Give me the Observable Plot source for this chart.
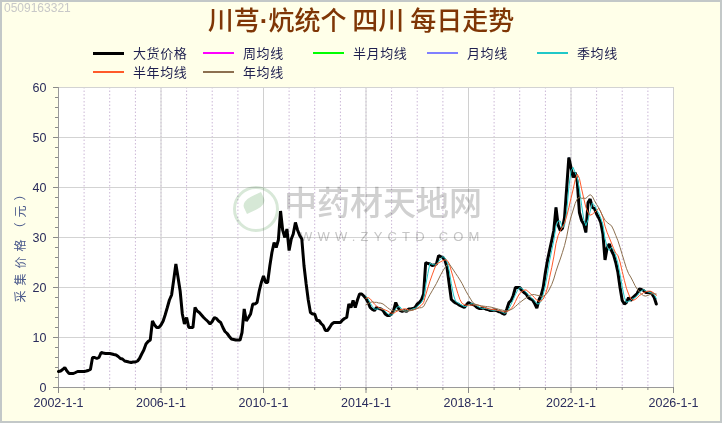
<!DOCTYPE html>
<html>
<head>
<meta charset="utf-8">
<script src="https://cdn.jsdelivr.net/npm/d3@7"></script>
<script src="https://cdn.jsdelivr.net/npm/@observablehq/plot@0.6"></script>
<style>
  body { margin: 0; background: #fff; }
  #root { position: relative; width: 722px; height: 423px; background: #FFFFE9; overflow: hidden;
          font-family: "Noto Sans CJK SC", "Liberation Sans", sans-serif; }
  #chart { position: absolute; left: 0; top: 80px; }
  #title { position: absolute; left: 0; top: 3px; width: 722px; text-align: center; font-size: 26px;
           line-height: 32px; color: #7f3606; font-weight: 500; white-space: nowrap; }
  #title .dot { font-family: "Liberation Sans", Arial, sans-serif; font-weight: 700; }
  .lg-line { position: absolute; height: 0; }
  .lg-text { position: absolute; font-size: 13px; line-height: 13px; height: 13px; color: #1f2050; white-space: nowrap; letter-spacing: 0.6px; }
  #ylabel { position: absolute; left: 20px; top: 243px; transform: translate(-50%, -50%) rotate(-90deg);
            font-size: 12px; line-height: 12px; letter-spacing: 5px; color: #4b5a8c; white-space: nowrap; }
  #wmid { position: absolute; left: 4px; top: 1px; font: 12px "Liberation Sans", Arial, sans-serif; color: #c8c8c8; }
  .wm { position: absolute; mix-blend-mode: multiply; pointer-events: none; white-space: nowrap; }
  #wmcn { left: 284px; top: 181px; font-size: 33px; line-height: 40px; color: #d0d0d0; font-weight: 500; }
  #wmen { left: 300px; top: 229px; font: 13px "Liberation Sans", Arial, sans-serif; letter-spacing: 5.2px; color: #c6c6c6; }
  #wmlogo { left: 233px; top: 186px; width: 40px; height: 40px; border-radius: 50%; border: 3px solid #d8e8d8; }
  #wmleaf { left: 243px; top: 196px; width: 22px; height: 14px; border-radius: 50% 0 50% 0; background: #d6e8d6; transform: rotate(-25deg); }
  #border { position: absolute; left: 0; top: 0; width: 722px; height: 423px; box-sizing: border-box;
            border: 2px solid #c3c8c8; pointer-events: none; }
</style>
</head>
<body>
<div id="root">
  <div id="chart"></div>
  <div class="wm" id="wmlogo"></div>
  <div class="wm" id="wmleaf"></div>
  <div class="wm" id="wmcn">中药材天地网</div>
  <div class="wm" id="wmen">WWW.ZYCTD.COM</div>
  <div id="title">川芎<span class="dot">·</span>炕统个 四川 每日走势</div>
  <div id="legend"></div>
  <div id="ylabel">采集价格（元）</div>
  <div id="wmid">0509163321</div>
  <div id="border"></div>
</div>
<script>
// ---- data (monthly price, first value = Jan 2002) ----
const firstYear = 2002;
const monthlyPrice = [
  // 2002
  3.2, 3.3, 3.6, 4.0, 3.3, 2.8, 2.8, 2.8, 3.0, 3.2, 3.2, 3.2,
  // 2003
  3.2, 3.3, 3.4, 3.6, 6.0, 6.0, 5.8, 6.0, 7.0, 6.9, 6.8, 6.8,
  // 2004
  6.8, 6.7, 6.6, 6.5, 6.2, 5.8, 5.7, 5.3, 5.2, 5.1, 5.0, 5.1,
  // 2005
  5.1, 5.3, 5.8, 6.7, 7.5, 8.7, 9.2, 9.5, 13.3, 12.5, 12.0, 12.0,
  // 2006
  12.5, 13.3, 14.5, 16.0, 17.5, 18.5, 21.5, 24.7, 22.0, 19.3, 14.7, 12.7,
  // 2007
  14.0, 12.0, 12.0, 12.0, 16.0, 15.3, 15.0, 14.5, 14.0, 13.6, 13.2, 12.7,
  // 2008
  13.2, 14.0, 13.8, 13.3, 13.0, 12.0, 11.2, 10.8, 10.2, 9.7, 9.6, 9.5,
  // 2009
  9.5, 9.5, 11.0, 15.7, 13.3, 14.0, 14.7, 16.7, 16.7, 17.0, 19.3, 21.0,
  // 2010
  22.3, 21.0, 21.0, 24.3, 27.0, 29.0, 28.0, 29.5, 35.3, 31.5, 30.0, 31.7,
  // 2011
  27.4, 29.7, 30.7, 33.0, 31.5, 30.4, 29.7, 24.4, 20.7, 17.5, 15.0, 14.7,
  // 2012
  14.7, 13.4, 13.4, 12.8, 12.4, 11.4, 11.4, 12.0, 12.7, 13.0, 13.0, 13.0,
  // 2013
  13.0, 13.5, 13.8, 14.0, 16.7, 16.0, 17.4, 16.0, 17.5, 18.7, 18.7, 18.3,
  // 2014
  17.8, 17.0, 16.0, 15.6, 15.4, 16.0, 15.8, 15.7, 15.4, 14.7, 14.4, 14.4,
  // 2015
  14.7, 15.5, 17.0, 16.0, 15.4, 15.2, 15.4, 15.2, 15.7, 15.7, 15.8, 16.0,
  // 2016
  16.7, 17.0, 17.5, 18.7, 25.0, 24.8, 24.7, 24.4, 24.5, 24.7, 26.4, 26.2,
  // 2017
  26.0, 25.4, 24.0, 20.7, 17.6, 17.2, 16.9, 16.7, 16.4, 16.2, 16.0, 16.5,
  // 2018
  17.0, 16.7, 16.6, 16.4, 16.0, 15.8, 15.8, 15.9, 15.7, 15.6, 15.4, 15.4,
  // 2019
  15.5, 15.4, 15.2, 15.1, 14.8, 14.6, 15.7, 17.0, 17.4, 18.4, 20.0, 20.0,
  // 2020
  20.0, 19.4, 19.0, 18.7, 18.0, 17.7, 17.5, 16.8, 15.9, 17.5, 18.4, 20.0,
  // 2021
  23.0, 25.5, 27.4, 29.4, 31.4, 36.0, 32.5, 31.4, 31.8, 34.0, 40.0, 46.0,
  // 2022
  44.0, 42.0, 43.0, 41.0, 35.0, 33.4, 32.7, 31.0, 37.0, 37.7, 36.0, 35.8,
  // 2023
  34.7, 33.9, 33.0, 30.7, 25.5, 28.0, 28.7, 27.4, 26.5, 25.0, 23.0, 20.0,
  // 2024
  17.4, 16.7, 17.0, 18.0, 17.4, 18.0, 18.4, 18.8, 19.7, 19.6, 19.4, 19.0,
  // 2025
  19.0, 19.0, 18.7, 18.0, 16.7
];

// moving-average windows (in monthly samples) and legend
const seriesNames   = ["大货价格", "周均线", "半月均线", "月均线", "季均线", "半年均线", "年均线"];
const seriesColors  = ["#000000", "#ff00ff", "#00ff00", "#8080ff", "#20c8c8", "#ff5a2a", "#8c7050"];
const seriesWindows = [null, 1, 1, 1, 3, 6, 12];
const maStartYear = 2014;

// axis ticks
const xMajorYears = [2002, 2006, 2010, 2014, 2018, 2022, 2026];
const xMinorYears = d3.range(2002, 2027);
const yMajor = [0, 10, 20, 30, 40, 50, 60];
const yMinor = d3.range(0, 61, 2);

// ---- build table ----
const data = monthlyPrice.map((v, i) => ({ date: new Date(Date.UTC(firstYear, i, 1)), price: v }));
const utcYear = y => new Date(Date.UTC(y, 0, 1));
const maStart = utcYear(maStartYear);

const maLine = (idx) => Plot.line(data, Plot.filter(d => d.date >= maStart,
  Plot.windowY({ k: seriesWindows[idx], anchor: "end" },
    { x: "date", y: "price", stroke: seriesColors[idx], strokeWidth: 1 })));

const chart = Plot.plot({
  width: 722,
  height: 343,
  marginLeft: 58,
  marginRight: 49,
  marginTop: 7,
  marginBottom: 36,
  style: { background: "transparent", fontFamily: "'Liberation Sans', Arial, sans-serif", fontSize: "12.5px", color: "#2a2c5c", overflow: "visible" },
  x: { type: "utc", domain: [utcYear(xMajorYears[0]), utcYear(xMajorYears[xMajorYears.length - 1])], label: null },
  y: { domain: [yMajor[0], yMajor[yMajor.length - 1]], label: null },
  marks: [
    Plot.frame({ fill: "white", stroke: "none" }),
    Plot.ruleX(xMinorYears.map(utcYear), { stroke: "#cbb7d6", strokeDasharray: "1.5,2", strokeWidth: 1 }),
    Plot.ruleX(xMajorYears.map(utcYear), { stroke: "#d0d0d0", strokeWidth: 1 }),
    Plot.ruleY(yMajor, { stroke: "#d3d3d3", strokeWidth: 1 }),
    Plot.ruleY(yMajor.slice(0, 1), { stroke: "#9a9a9a" }),
    Plot.ruleX([utcYear(xMajorYears[0])], { stroke: "#9a9a9a" }),
    Plot.axisY({ ticks: yMajor, tickSize: 5, tickPadding: 7, stroke: "#8a8a8a", fill: "#2a2c5c", fontSize: 12.5, label: null }),
    Plot.axisY({ ticks: yMinor, tickSize: 3, tickFormat: () => "", stroke: "#8a8a8a", label: null }),
    Plot.axisX({ ticks: xMajorYears.map(utcYear), tickSize: 6, tickPadding: 5, stroke: "#8a8a8a", fill: "#2a2c5c",
                 tickFormat: d => `${d.getUTCFullYear()}-1-1`, fontSize: 12.5, label: null }),
    Plot.axisX({ ticks: xMinorYears.map(utcYear), tickSize: 3, tickFormat: () => "", stroke: "#8a8a8a", label: null }),
    maLine(1), maLine(2), maLine(3),
    Plot.line(data, { x: "date", y: "price", stroke: seriesColors[0], strokeWidth: 3, strokeLinejoin: "miter" }),
    maLine(4), maLine(5), maLine(6)
  ]
});
document.getElementById("chart").appendChild(chart);

// ---- legend ----
const legend = document.getElementById("legend");
const legendCols = [93, 203, 313, 427, 537];
const legendRows = [53, 72];
seriesNames.forEach((name, i) => {
  const col = i < 5 ? i : i - 5;
  const row = i < 5 ? 0 : 1;
  const x = legendCols[col], y = legendRows[row];
  const ln = document.createElement("div");
  ln.className = "lg-line";
  const w = i === 0 ? 3 : 2;
  ln.style.cssText = `left:${x}px;top:${y - w / 2}px;width:31px;border-top:${w}px solid ${seriesColors[i]};`;
  legend.appendChild(ln);
  const tx = document.createElement("div");
  tx.className = "lg-text";
  tx.textContent = name;
  tx.style.left = (x + 40) + "px";
  tx.style.top = (y - 7) + "px";
  legend.appendChild(tx);
});
</script>
</body>
</html>
